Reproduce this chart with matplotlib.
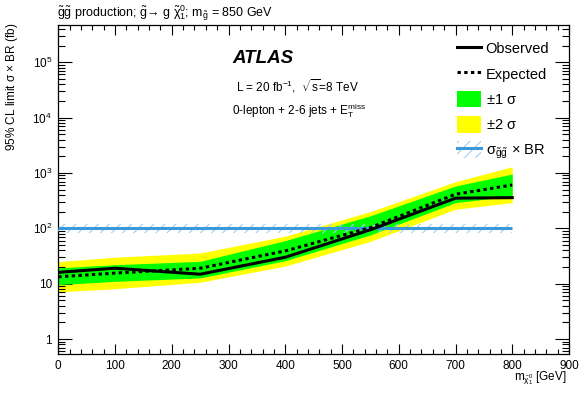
import numpy as np
import matplotlib
matplotlib.use("Agg")
import matplotlib.pyplot as plt
from matplotlib.ticker import FixedLocator, LogLocator, NullFormatter, FuncFormatter, MultipleLocator
from matplotlib.lines import Line2D
from matplotlib.patches import Patch

plt.rcParams['font.family'] = ['Liberation Sans', 'DejaVu Sans']
plt.rcParams['mathtext.fontset'] = 'custom'
plt.rcParams['mathtext.rm'] = 'Liberation Sans'
plt.rcParams['mathtext.it'] = 'Liberation Sans:italic'
plt.rcParams['mathtext.bf'] = 'Liberation Sans:bold'
plt.rcParams['hatch.linewidth'] = 0.8

# ---- data ----
mass = [0, 100, 250, 400, 550, 700, 800]
observed = [16, 19, 14.8, 30, 94, 350, 358]
expected = [13.3, 15.5, 19, 39, 103, 412, 606]
band1_lo = [9.6, 11, 12.7, 26, 76, 291, 384]
band1_hi = [19.2, 22, 25.3, 60, 168, 581, 955]
band2_lo = [7.1, 8.1, 10.6, 20.8, 58, 221, 291]
band2_hi = [25, 30, 35.8, 72, 200, 695, 1294]
theory_mass = [0, 800]
theory_xsec = [100, 100]
theory_lo = [82, 82]
theory_hi = [122, 122]

xticks = [0, 100, 200, 300, 400, 500, 600, 700, 800, 900]
yticks = [1, 10, 1e2, 1e3, 1e4, 1e5]

GREEN = '#00ff00'
YELLOW = '#ffff00'
BLUE = '#3a9ad9'
HATCH = '#9fd0f0'

fig = plt.figure(figsize=(5.81, 3.94), dpi=100)
ax = fig.add_axes([58.3/581, 1-354/394, (569-58.3)/581, (354-25)/394])

ax.fill_between(mass, band2_lo, band2_hi, color=YELLOW, lw=0, zorder=1)
ax.fill_between(mass, band1_lo, band1_hi, color=GREEN, lw=0, zorder=2)
ax.fill_between(theory_mass, theory_lo, theory_hi, facecolor='none', edgecolor=HATCH,
                hatch='///', lw=0, zorder=3)
ax.plot(theory_mass, theory_xsec, color=BLUE, lw=2.2, zorder=4, solid_capstyle='butt')
ax.plot(mass, expected, color='black', lw=2.2, ls=(0, (1.1, 1.1)), zorder=5)
ax.plot(mass, observed, color='black', lw=2.2, zorder=6)

ax.set_yscale('log')
ax.set_xlim(0, 900)
ax.set_ylim(0.536, 4.7e5)

ax.xaxis.set_major_locator(FixedLocator(xticks))
ax.xaxis.set_minor_locator(MultipleLocator(20))
ax.yaxis.set_major_locator(FixedLocator(yticks))
ax.yaxis.set_minor_locator(LogLocator(base=10, subs=range(2, 10), numticks=30))
ax.yaxis.set_minor_formatter(NullFormatter())

def yfmt(v, pos):
    e = int(round(np.log10(v)))
    if e == 0:
        return '1'
    if e == 1:
        return '10'
    return r'10$^{%d}$' % e

ax.yaxis.set_major_formatter(FuncFormatter(yfmt))
ax.xaxis.set_major_formatter(FuncFormatter(lambda v, p: '%d' % v))

ax.tick_params(axis='both', which='both', direction='in', top=True, right=True,
               width=0.8, labelsize=8.5, colors='black')
ax.tick_params(axis='x', which='major', length=7.2, pad=4)
ax.tick_params(axis='x', which='minor', length=3.3)
ax.tick_params(axis='y', which='major', length=10, pad=4.5)
ax.tick_params(axis='y', which='minor', length=5)
for s in ax.spines.values():
    s.set_linewidth(0.9)

# legend
handles = [
    Line2D([], [], color='black', lw=2.2),
    Line2D([], [], color='black', lw=2.2, ls=(0, (1.1, 1.1))),
    Patch(facecolor=GREEN, edgecolor='none'),
    Patch(facecolor=YELLOW, edgecolor='none'),
    (Patch(facecolor='none', edgecolor=HATCH, hatch='///', lw=0),
     Line2D([], [], color=BLUE, lw=2.2)),
]
labels = ['Observed', 'Expected', r'$\pm$1 $\mathrm{\sigma}$', r'$\pm$2 $\mathrm{\sigma}$',
          r'$\mathrm{\sigma}_{\mathrm{\tilde{g}\tilde{g}}}$ $\times$ BR']
leg = ax.legend(handles, labels, loc='upper left', frameon=False, fontsize=10.5,
                bbox_to_anchor=(457.3/581, 1-40.0/394), bbox_transform=fig.transFigure,
                borderpad=0, borderaxespad=0, handlelength=1.6, handleheight=1.4,
                handletextpad=0.35, labelspacing=0.58)

# texts
fig.text(56.7/581, 1-16.7/394,
         r'$\mathrm{\tilde{g}\tilde{g}}$ production; $\mathrm{\tilde{g}}$→ g $\mathrm{\tilde{\chi}_1^0}$; m$_{\mathrm{\tilde{g}}}$ = 850 GeV',
         fontsize=9, va='baseline', ha='left')
fig.text(232.3/581, 1-62.7/394, 'ATLAS', fontsize=13.5, fontweight='bold',
         fontstyle='italic', va='baseline', ha='left')
fig.text(236/581, 1-91.7/394, r'L = 20 fb$^{-1}$,  $\sqrt{\mathrm{s}}$=8 TeV',
         fontsize=8.5, va='baseline', ha='left')
fig.text(232.3/581, 1-114/394, r'0-lepton + 2-6 jets + E$_{\mathrm{T}}^{\mathrm{miss}}$',
         fontsize=8.5, va='baseline', ha='left')
fig.text(567/581, 1-380.7/394, r'm$_{\mathrm{\tilde{\chi}_1^0}}$ [GeV]',
         fontsize=8.5, va='baseline', ha='right')
fig.text(12/581, 1-23/394, r'95% CL limit $\mathrm{\sigma}$ $\times$ BR (fb)',
         fontsize=8.5, rotation=90, va='top', ha='center')

fig.savefig('out.png', dpi=100)
